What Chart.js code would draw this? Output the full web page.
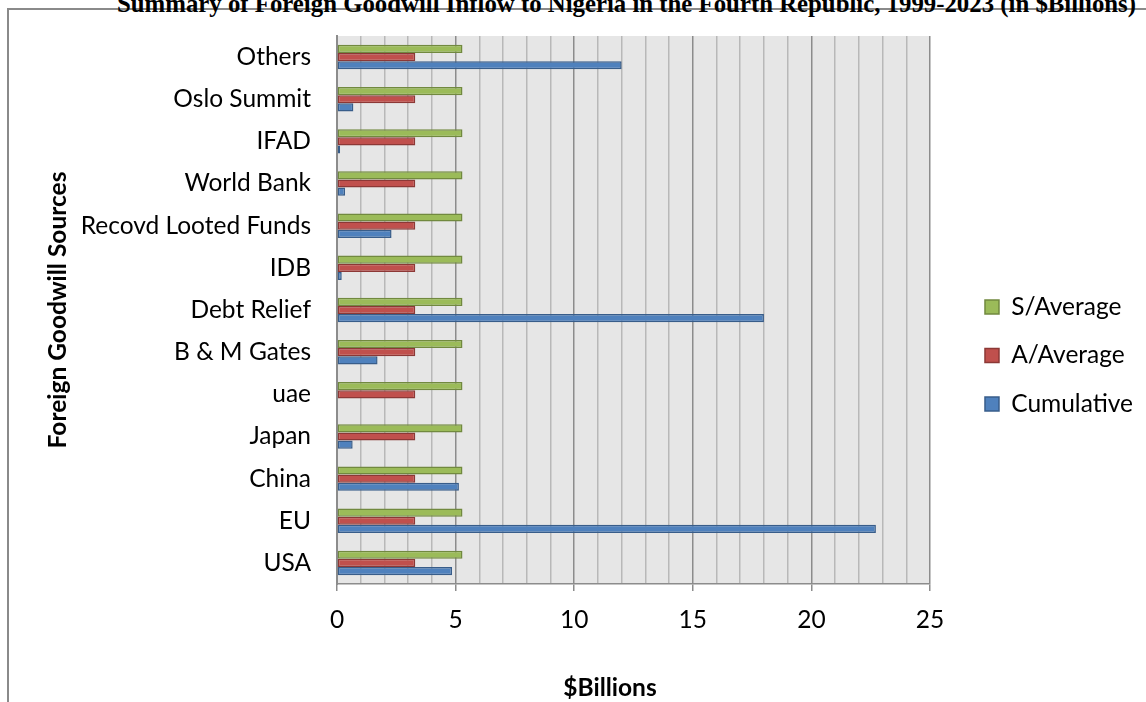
<!DOCTYPE html>
<html>
<head>
<meta charset="utf-8">
<script src="https://cdn.jsdelivr.net/npm/chart.js@4"></script>
<style>
  html, body { margin: 0; padding: 0; background: #fff; }
  #wrap { position: relative; width: 1146px; height: 702px; overflow: hidden; }
  #frame { position: absolute; left: 7px; top: 8px; width: 1200px; height: 800px;
           border-left: 2px solid #8a8a8a; border-top: 2px solid #8a8a8a; }
  #title { position: absolute; left: 117px; top: -10px; white-space: nowrap;
           font: bold 24.8px "Liberation Serif", "Times New Roman", serif; color: #000; }
  #xtitle { position: absolute; left: 610px; top: 672px; transform: translateX(-50%);
            font: bold 24.5px Lato, "Open Sans", sans-serif; color: #000; }
  canvas { position: absolute; left: 0; top: 0; }
</style>
</head>
<body>
<div id="wrap">
  <div id="frame"></div>
  <div id="title">Summary of Foreign Goodwill Inflow to Nigeria in the Fourth Republic, 1999-2023 (in $Billions)</div>
  <canvas id="myChart" width="1146" height="702"></canvas>
  <div id="xtitle">$Billions</div>
</div>
<script>
// categories, listed top to bottom as they appear
const sources = ['Others', 'Oslo Summit', 'IFAD', 'World Bank', 'Recovd Looted Funds', 'IDB',
                 'Debt Relief', 'B & M Gates', 'uae', 'Japan', 'China', 'EU', 'USA'];
const sAverage = [5.29, 5.29, 5.29, 5.29, 5.29, 5.29, 5.29, 5.29, 5.29, 5.29, 5.29, 5.29, 5.29];
const aAverage = [3.3, 3.3, 3.3, 3.3, 3.3, 3.3, 3.3, 3.3, 3.3, 3.3, 3.3, 3.3, 3.3];
const cumulative = [12.0, 0.69, 0.13, 0.34, 2.3, 0.2, 18.0, 1.71, 0.03, 0.66, 5.14, 22.72, 4.85];
const xTicks = [0, 5, 10, 15, 20, 25];

const plotBg = {
    id: 'plotBg',
    beforeDraw(chart) {
        const a = chart.chartArea;
        const c = chart.ctx;
        c.save();
        c.fillStyle = '#e6e6e6';
        c.fillRect(a.left, a.top, a.right - a.left, a.bottom - a.top);
        c.restore();
    },
    // push the legend a bit away from the plot, like the original
    afterLayout(chart) {
        const dx = 31;
        chart.legend.left += dx;
        chart.legend.right += dx;
    }
};

var ctx = document.getElementById('myChart').getContext('2d');
var myChart = new Chart(ctx, {
    type: 'bar',
    data: {
        labels: sources,
        datasets: [{
            label: 'S/Average',
            data: sAverage,
            backgroundColor: '#9bbb59',
            borderColor: '#71893f',
            borderWidth: 1.5,
            borderSkipped: false
        }, {
            label: 'A/Average',
            data: aAverage,
            backgroundColor: '#c0504d',
            borderColor: '#8c3836',
            borderWidth: 1.5,
            borderSkipped: false
        }, {
            label: 'Cumulative',
            data: cumulative,
            backgroundColor: '#4f81bd',
            borderColor: '#385d8a',
            borderWidth: 1.5,
            borderSkipped: false
        }]
    },
    plugins: [plotBg],
    options: {
        indexAxis: 'y',
        responsive: false,
        animation: false,
        categoryPercentage: 0.58,
        barPercentage: 1.0,
        layout: { padding: { left: 36, top: 36, right: 34, bottom: 27 } },
        plugins: {
            tooltip: { enabled: false },
            legend: {
                position: 'right',
                labels: {
                    boxWidth: 14,
                    boxHeight: 14,
                    padding: 24,
                    color: '#000',
                    font: { family: 'Lato', size: 24.5 }
                }
            }
        },
        scales: {
            x: {
                min: 0,
                max: 25,
                afterFit: (s) => { s.height = 91; },
                ticks: {
                    stepSize: 1,
                    autoSkip: false,
                    maxRotation: 0,
                    padding: 14,
                    color: '#000',
                    font: { family: 'Lato', size: 24.5 },
                    callback: (v) => xTicks.includes(v) ? String(v) : ''
                },
                grid: {
                    color: (c) => c.tick && c.tick.value % 5 === 0 ? '#8c8c8c' : '#b8b8b8',
                    lineWidth: 1.5,
                    tickLength: 7,
                    tickColor: (c) => c.tick && c.tick.value % 5 === 0 ? '#8c8c8c' : 'rgba(0,0,0,0)'
                },
                border: { color: '#8c8c8c', width: 1.5 }
            },
            y: {
                afterFit: (s) => { s.width = 301; s.paddingTop = 0; s.paddingBottom = 0; },
                ticks: {
                    padding: 26,
                    color: '#000',
                    font: { family: 'Lato', size: 24.5 }
                },
                grid: { display: false, drawTicks: false },
                border: { display: true, color: '#8c8c8c', width: 2 },
                title: {
                    display: true,
                    text: 'Foreign Goodwill Sources',
                    color: '#000',
                    padding: { top: 7, bottom: 0 },
                    font: { family: 'Lato', size: 24.5, weight: 'bold' }
                }
            }
        }
    }
});
</script>
</body>
</html>
